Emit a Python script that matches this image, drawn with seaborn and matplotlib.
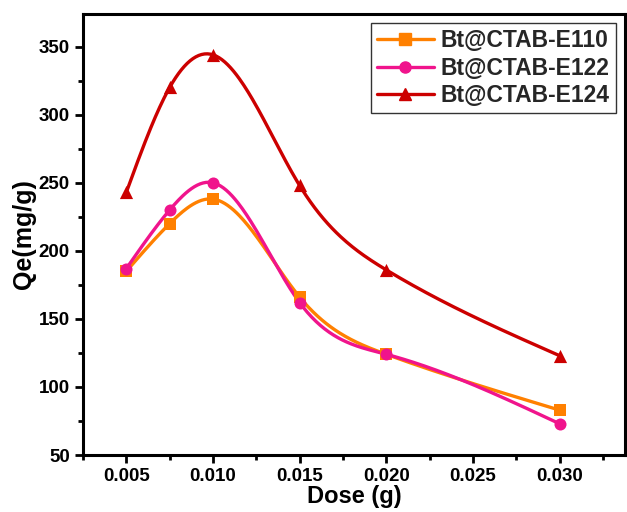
import numpy as np
import pandas as pd
import matplotlib
matplotlib.use("Agg")
import matplotlib.pyplot as plt
import seaborn as sns
from matplotlib.ticker import MultipleLocator
from matplotlib.lines import Line2D

dose = [0.005, 0.0075, 0.010, 0.015, 0.020, 0.030]
series_names = ["Bt@CTAB-E110", "Bt@CTAB-E122", "Bt@CTAB-E124"]
qe_e110 = [185, 220, 238, 166, 124, 83]
qe_e122 = [187, 230, 250, 162, 124, 73]
qe_e124 = [243, 320, 344, 248, 186, 123]
colors = ["#FF8000", "#F0148C", "#CC0000"]
markers = ["s", "o", "^"]


def natural_spline(x, y, n=300):
    x = np.asarray(x, float); y = np.asarray(y, float)
    m = len(x); h = np.diff(x)
    A = np.zeros((m, m)); b = np.zeros(m)
    A[0, 0] = A[-1, -1] = 1
    for i in range(1, m - 1):
        A[i, i - 1] = h[i - 1]; A[i, i] = 2 * (h[i - 1] + h[i]); A[i, i + 1] = h[i]
        b[i] = 3 * ((y[i + 1] - y[i]) / h[i] - (y[i] - y[i - 1]) / h[i - 1])
    c = np.linalg.solve(A, b)
    xs = np.linspace(x[0], x[-1], n)
    idx = np.clip(np.searchsorted(x, xs) - 1, 0, m - 2)
    dx = xs - x[idx]
    bb = (y[1:] - y[:-1]) / h - h * (2 * c[:-1] + c[1:]) / 3
    dd = (c[1:] - c[:-1]) / (3 * h)
    ys = y[idx] + bb[idx] * dx + c[idx] * dx ** 2 + dd[idx] * dx ** 3
    return xs, ys


sns.set_theme(style="ticks")
plt.rcParams["font.family"] = ["Liberation Sans", "DejaVu Sans"]
plt.rcParams["font.weight"] = "bold"

fig = plt.figure(figsize=(6.27, 5.12), dpi=100)
ax = fig.add_axes([0.1324, 0.1113, 0.865, 0.8614])

handles = []
for name, vals, col, mk in zip(series_names, [qe_e110, qe_e122, qe_e124], colors, markers):
    xs, ys = natural_spline(dose, vals)
    sns.lineplot(x=xs, y=ys, ax=ax, color=col, linewidth=2.4, sort=False)
    df = pd.DataFrame({"dose": dose, "qe": vals})
    sns.scatterplot(data=df, x="dose", y="qe", ax=ax, color=col, marker=mk,
                    s=75 if mk != "^" else 90, edgecolor=col, linewidth=0, zorder=3)
    handles.append(Line2D([], [], color=col, linewidth=2.4, marker=mk, markersize=8))

ax.set_xlim(0.0025, 0.0338)
ax.set_ylim(50, 374)
ax.set_xticks([0.005, 0.010, 0.015, 0.020, 0.025, 0.030])
ax.set_xticklabels(["0.005", "0.010", "0.015", "0.020", "0.025", "0.030"])
ax.xaxis.set_minor_locator(MultipleLocator(0.0025))
ax.set_yticks([50, 100, 150, 200, 250, 300, 350])
ax.yaxis.set_minor_locator(MultipleLocator(25))
ax.tick_params(axis="both", which="major", direction="out", length=6, width=2,
               labelsize=13.5, color="black", labelcolor="black")
ax.tick_params(axis="both", which="minor", direction="out", length=3.5, width=2, color="black")
for lab in ax.get_xticklabels() + ax.get_yticklabels():
    lab.set_fontweight("bold")
for sp in ax.spines.values():
    sp.set_linewidth(2.2)
    sp.set_color("black")
    sp.set_visible(True)

ax.set_xlabel("Dose (g)", fontsize=17, fontweight="bold", labelpad=0, color="black")
ax.set_ylabel("Qe(mg/g)", fontsize=18, fontweight="bold", labelpad=2, color="black")

leg = ax.legend(handles, series_names, loc="upper right", bbox_to_anchor=(0.982, 0.979),
                frameon=True, fancybox=False, edgecolor="black",
                prop={"weight": "bold", "size": 16.5}, handlelength=2.5, borderpad=0.25,
                labelspacing=0.2, handletextpad=0.3, borderaxespad=0)
leg.get_frame().set_linewidth(1.0)

fig.savefig("out.png", dpi=100)
